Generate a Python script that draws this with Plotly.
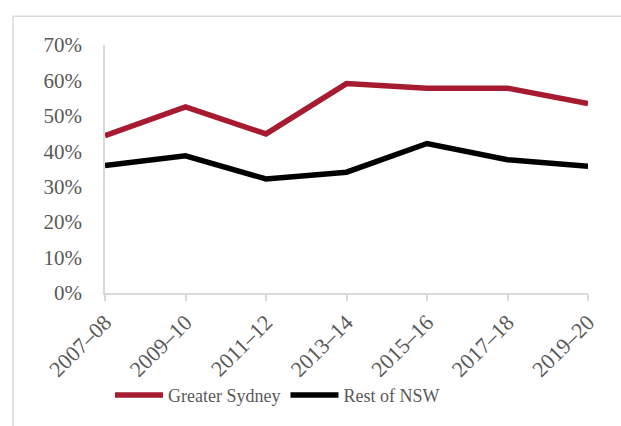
import plotly.graph_objects as go

# Share of households by period
periods = ["2007–08", "2009–10", "2011–12", "2013–14", "2015–16", "2017–18", "2019–20"]
greater_sydney = [0.444, 0.525, 0.449, 0.591, 0.578, 0.578, 0.535]
rest_of_nsw = [0.360, 0.387, 0.322, 0.341, 0.422, 0.376, 0.358]

idx = list(range(len(periods)))
grey_txt = "#595959"
axis_grey = "#d9d9d9"

fig = go.Figure()
fig.add_trace(go.Scatter(x=idx, y=greater_sydney, mode="lines", name="Greater Sydney",
                         line=dict(color="#A61B30", width=5.5)))
fig.add_trace(go.Scatter(x=idx, y=rest_of_nsw, mode="lines", name="Rest of NSW",
                         line=dict(color="#000000", width=5.5)))

W, H = 621, 426
L, R, T, B = 105, 33, 45, 131
pw, ph = W - L - R, H - T - B

def px(x):
    return (x - L) / pw

def py(y):
    return (H - B - y) / ph

# Light outer frame (left and top edges)
fig.add_shape(type="line", xref="paper", yref="paper",
              x0=px(13), x1=px(13), y0=py(16), y1=py(430),
              line=dict(color=axis_grey, width=1.5))
fig.add_shape(type="line", xref="paper", yref="paper",
              x0=px(13), x1=px(625), y0=py(16), y1=py(16),
              line=dict(color=axis_grey, width=1.5))

fig.update_layout(
    width=W, height=H,
    margin=dict(l=L, r=R, t=T, b=B),
    plot_bgcolor="white", paper_bgcolor="white",
    showlegend=True,
    legend=dict(orientation="h", x=px(110), xanchor="left", y=py(398), yanchor="middle",
                font=dict(family="Liberation Serif", size=18, color=grey_txt),
                itemwidth=48, traceorder="normal"),
    xaxis=dict(range=[0, 6], tickmode="array", tickvals=idx, ticktext=periods,
               tickangle=-45, showgrid=False, zeroline=False,
               showline=True, linecolor=axis_grey, linewidth=1.5,
               ticks="outside", ticklen=6, tickcolor=axis_grey, tickwidth=1.5,
               tickfont=dict(family="Liberation Serif", size=22, color=grey_txt)),
    yaxis=dict(range=[0, 0.7], dtick=0.1, tickformat=".0%", showgrid=False, zeroline=False,
               showline=True, linecolor=axis_grey, linewidth=1.5, ticks="",
               ticklabelstandoff=17,
               tickfont=dict(family="Liberation Serif", size=21, color=grey_txt)),
)

fig.write_html("out.html")
